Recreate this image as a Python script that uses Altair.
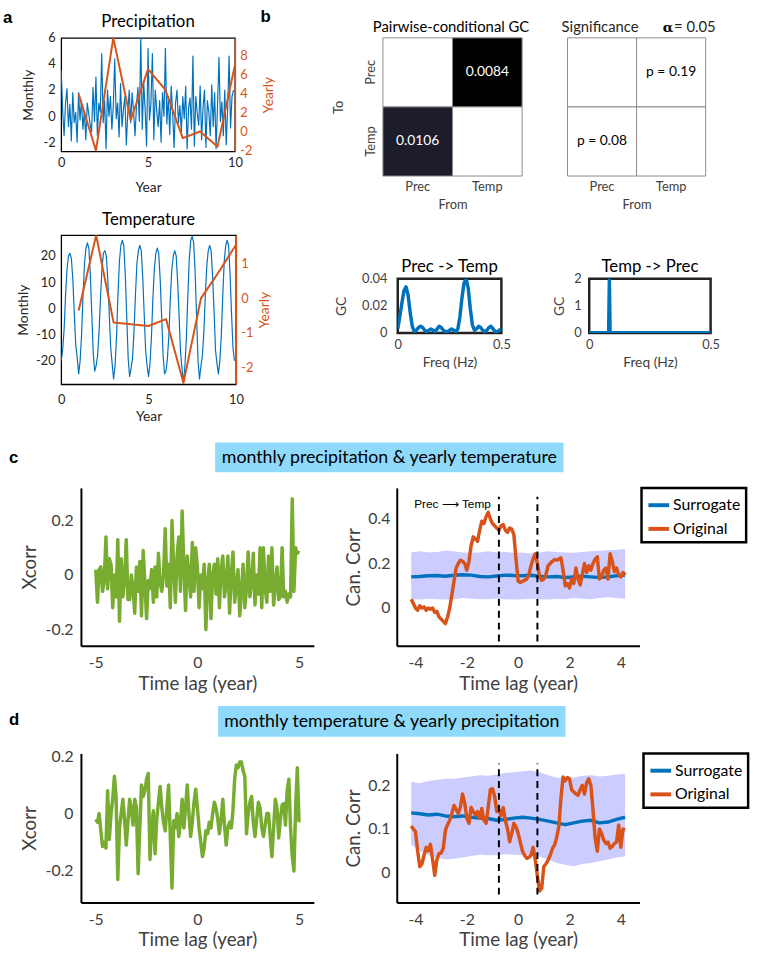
import altair as alt
import pandas as pd

FONT = "Lato"
LETTER_FONT = "Liberation Sans"
BLUE = "#0072BD"
ORANGE = "#D95319"
GREEN = "#77AC30"
BAND = "#CCCCFF"
BANNER = "#8FD9FB"
DARK = "#262626"
GRAY = "#404040"

# ---------------- data ----------------
month_years = [round(i / 12, 4) for i in range(120)]
year_pts = [1, 2, 3, 4, 5, 6, 7, 8, 9, 10]

prec_monthly = [
    3.5, 0.5, -1.5, 1.0, 2.1, -0.8, 0.9, -1.9, 1.8, -0.5, 0.3, -2.0,
    1.8, -0.3, 1.2, -1.0, 0.4, -1.8, 1.0, 0.2, -0.6, -1.2, 2.2, -0.4,
    3.0, -1.5, 1.0, 0.3, 4.8, -0.5, 1.2, -2.5, 2.0, 0.0, 1.5, -1.0,
    0.8, 4.4, -0.2, 1.0, -1.6, 2.5, -0.8, 0.5, 1.5, -2.2, 0.2, 2.0,
    -0.5, 1.8, 0.3, -1.5, 0.8, 2.2, -0.4, 6.0, -1.0, 2.6, 0.5, -2.3,
    5.2, -0.3, 1.0, 4.8, -1.8, 2.0, 0.4, -0.8, 1.2, -2.0, 1.8, 0.0,
    5.2, -0.6, 1.5, -1.4, 2.3, 0.2, -2.4, 1.0, 2.0, -0.5, 0.8, -1.2,
    1.5, -0.2, 2.3, -2.5, 0.6, 1.4, -1.0, 4.6, -2.3, 1.5, 0.2, -0.7,
    2.3, -1.8, 0.7, 2.0, -2.4, 1.2, 0.3, -1.5, 2.4, -0.8, 1.8, -2.5,
    0.8, 4.5, -0.4, 1.1, -1.5, 2.0, -2.2, 0.6, 4.6, -0.9, 1.5, 2.0,
]
prec_yearly = [4.0, -2.0, 9.9, 1.2, 6.6, 4.4, -0.7, 0.0, -1.6, 7.0]

temp_monthly = [
    -20, -16, -8, 5, 15, 20, 21, 19, 11, -2, -14, -19,
    -25, -20, -10, 5, 17, 23, 25, 23, 13, -2, -17, -24,
    -22, -18, -9, 4, 15, 21, 22, 20, 11, -2, -15, -21,
    -27, -22, -11, 5, 18, 24, 26, 24, 13, -3, -19, -26,
    -23, -19, -9, 5, 17, 22, 24, 22, 12, -2, -16, -22,
    -26, -21, -11, 4, 15, 21, 23, 21, 11, -3, -18, -25,
    -24, -19, -10, 4, 15, 20, 22, 20, 10, -3, -17, -23,
    -28.5, -22, -11, 5, 19, 26, 27.5, 25, 14, -3, -20, -27,
    -22, -18, -9, 5, 16, 22, 24, 22, 12, -1, -16, -21,
    -25, -20, -10, 5, 18, 24, 26, 24, 13, -2, -15, -20,
]
temp_yearly = [-0.35, 1.83, -0.7, -0.75, -0.8, -0.6, -2.45, 0.0, 0.75, 1.55]

CATS = ["Prec", "Temp"]
heat_from = ["Prec", "Temp", "Prec", "Temp"]
heat_to = ["Prec", "Prec", "Temp", "Temp"]
heat_fill = ["#FFFFFF", "#000000", "#1C1C2A", "#FFFFFF"]
heat_text = ["", "0.0084", "0.0106", ""]
p_text = ["", "p = 0.19", "p = 0.08", ""]

gc_freq = [round(i / 100, 2) for i in range(51)]
gc_prec_temp = [
    0.003, 0.012, 0.022, 0.031, 0.034, 0.028, 0.015, 0.005, 0.001, 0.002,
    0.004, 0.005, 0.004, 0.002, 0.001, 0.002, 0.003, 0.002, 0.001, 0.003,
    0.005, 0.004, 0.002, 0.001, 0.001, 0.002, 0.003, 0.002, 0.001, 0.003,
    0.012, 0.026, 0.037, 0.040, 0.033, 0.018, 0.006, 0.002, 0.003, 0.005,
    0.004, 0.002, 0.001, 0.002, 0.004, 0.005, 0.003, 0.001, 0.001, 0.002, 0.003,
]
gc2_freq = [0, 0.05, 0.075, 0.08, 0.083, 0.086, 0.09, 0.15, 0.25, 0.35, 0.45, 0.5]
gc_temp_prec = [0.01, 0.01, 0.01, 0.05, 2.0, 0.05, 0.01, 0.01, 0.01, 0.01, 0.01, 0.01]

lags60 = [round((k - 60) / 12, 4) for k in range(121)]
lags50 = [round((k - 50) / 12, 4) for k in range(101)]
lags_sur = [round((k - 50) / 12, 4) for k in range(0, 101, 4)]

c_xcorr = [
    0.02, -0.1, 0.02, 0.03, -0.06, -0.02, 0.14, -0.05, 0.06, 0.04, -0.12, 0.0,
    -0.08, 0.13, -0.17, 0.06, -0.08, -0.02, 0.13, -0.09, -0.09, 0.0, -0.05, -0.14,
    0.03, -0.06, 0.05, -0.15, 0.09, -0.03, -0.16, -0.02, -0.05, 0.02, -0.1, 0.03,
    -0.08, 0.08, -0.03, -0.06, 0.0, 0.17, -0.04, 0.04, -0.12, 0.2, 0.03, -0.1,
    0.07, 0.14, -0.06, 0.235, 0.03, -0.13, 0.07, 0.0, -0.08, 0.12, -0.06, 0.1,
    0.03, -0.12, 0.0, -0.05, 0.04, -0.2, -0.03, 0.04, -0.16, 0.0, 0.04, -0.07,
    0.06, -0.12, 0.02, 0.07, -0.08, -0.03, 0.07, -0.14, 0.0, 0.085, -0.1, -0.04,
    0.02, -0.15, -0.06, 0.04, -0.12, -0.05, 0.085, -0.08, -0.03, 0.08, -0.11, 0.0,
    -0.07, 0.1, -0.12, 0.1, -0.05, -0.1, 0.07, -0.06, 0.1, -0.11, -0.04, 0.03,
    -0.09, -0.08, 0.1, -0.08, -0.06, -0.1, -0.07, -0.08, 0.28, -0.06, 0.1, 0.08,
    0.09,
]
d_xcorr = [
    -0.02, -0.03, 0.0, -0.06, -0.115, -0.1, -0.12, 0.08, -0.09, 0.0, 0.05, 0.13,
    0.06, -0.23, -0.05, 0.0, 0.05, -0.02, -0.11, -0.03, 0.05, 0.015, -0.04, 0.05,
    0.02, -0.21, -0.05, 0.1, 0.06, 0.08, 0.12, 0.14, -0.16, -0.05, 0.01, -0.14,
    -0.02, 0.04, 0.095, 0.02, -0.03, -0.06, 0.02, 0.1, -0.08, -0.26, -0.025, -0.05,
    0.0, -0.08, -0.03, 0.05, -0.05, 0.02, 0.1, 0.0, -0.08, -0.03, 0.04, 0.085,
    0.02, -0.05, -0.1, -0.15, -0.12, -0.06, -0.07, -0.03, -0.05, 0.0, 0.04, 0.02,
    -0.02, -0.07, -0.02, 0.05, -0.04, -0.11, -0.05, -0.03, -0.05, 0.01, 0.12, 0.17,
    0.16, 0.18, 0.18, 0.15, 0.13, -0.07, 0.0, 0.04, 0.06, -0.03, -0.08, -0.02,
    0.04, 0.02, -0.05, -0.08, -0.04, 0.0, 0.0, -0.08, -0.15, -0.05, 0.05, 0.02,
    -0.085, -0.02, 0.03, 0.035, -0.04, 0.08, 0.12, -0.05, -0.15, -0.2, 0.02, 0.16,
    -0.03,
]

c_orig = [
    0.04, 0.02, 0.0, -0.01, 0.01, 0.0, 0.005, -0.01, 0.0, -0.005,
    0.0, -0.02, -0.015, -0.04, -0.05, -0.06, -0.07, -0.04, 0.0, 0.06,
    0.12, 0.18, 0.2, 0.215, 0.21, 0.2, 0.17, 0.21, 0.28, 0.32,
    0.31, 0.3, 0.35, 0.39, 0.38, 0.41, 0.43, 0.4, 0.38, 0.37,
    0.36, 0.35, 0.37, 0.375, 0.35, 0.34, 0.36, 0.355, 0.33, 0.22,
    0.12, 0.115, 0.12, 0.125, 0.13, 0.15, 0.19, 0.22, 0.244, 0.2,
    0.14, 0.125, 0.13, 0.15, 0.19, 0.2, 0.21, 0.218, 0.215, 0.22,
    0.226, 0.17, 0.1, 0.11, 0.09, 0.13, 0.11, 0.18, 0.13, 0.104,
    0.15, 0.2, 0.16, 0.19, 0.17, 0.2, 0.22, 0.23, 0.13, 0.14,
    0.17, 0.18, 0.13, 0.244, 0.21, 0.163, 0.18, 0.15, 0.14, 0.16,
    0.148,
]
d_orig = [
    0.107, 0.1, 0.094, 0.05, 0.014, 0.02, 0.04, 0.058, 0.05, 0.065,
    0.03, -0.006, 0.03, 0.044, 0.045, 0.056, 0.098, 0.11, 0.12, 0.135,
    0.154, 0.145, 0.135, 0.15, 0.18, 0.16, 0.125, 0.113, 0.15, 0.14,
    0.132, 0.14, 0.125, 0.147, 0.12, 0.113, 0.15, 0.19, 0.192, 0.175,
    0.14, 0.145, 0.13, 0.149, 0.12, 0.101, 0.071, 0.09, 0.113, 0.105,
    0.09, 0.07, 0.05, 0.04, 0.033, 0.035, 0.04, 0.058, 0.03, -0.008,
    -0.042, -0.035, 0.014, 0.02, 0.029, 0.04, 0.055, 0.063, 0.08, 0.105,
    0.17, 0.219, 0.21, 0.218, 0.215, 0.19, 0.185, 0.18, 0.177, 0.19,
    0.2, 0.18, 0.205, 0.215, 0.2, 0.143, 0.08, 0.049, 0.1, 0.09,
    0.075, 0.067, 0.07, 0.056, 0.06, 0.067, 0.07, 0.109, 0.058, 0.1,
    0.098,
]
c_sur = [0.14, 0.142, 0.145, 0.146, 0.143, 0.147, 0.15, 0.148, 0.142, 0.14,
         0.144, 0.148, 0.146, 0.145, 0.147, 0.143, 0.14, 0.142, 0.137, 0.14,
         0.143, 0.14, 0.137, 0.14, 0.145, 0.148]
c_hi = [0.25, 0.255, 0.25, 0.252, 0.258, 0.255, 0.25, 0.248, 0.25, 0.255,
        0.25, 0.252, 0.248, 0.25, 0.245, 0.25, 0.255, 0.252, 0.25, 0.248,
        0.252, 0.255, 0.258, 0.26, 0.262, 0.265]
c_lo = [0.04, 0.038, 0.042, 0.04, 0.038, 0.04, 0.045, 0.042, 0.04, 0.04,
        0.042, 0.04, 0.038, 0.04, 0.042, 0.04, 0.038, 0.042, 0.04, 0.045,
        0.042, 0.04, 0.045, 0.048, 0.045, 0.042]
d_sur = [0.137, 0.135, 0.132, 0.134, 0.13, 0.128, 0.13, 0.127, 0.125, 0.124,
         0.12, 0.122, 0.125, 0.127, 0.125, 0.122, 0.118, 0.114, 0.11, 0.114,
         0.118, 0.12, 0.114, 0.116, 0.122, 0.127]
d_hi = [0.208, 0.205, 0.21, 0.212, 0.215, 0.215, 0.218, 0.22, 0.223, 0.222,
        0.225, 0.228, 0.23, 0.232, 0.234, 0.23, 0.223, 0.218, 0.215, 0.218,
        0.222, 0.223, 0.22, 0.222, 0.225, 0.226]
d_lo = [0.064, 0.05, 0.04, 0.035, 0.03, 0.032, 0.035, 0.038, 0.041, 0.04,
        0.04, 0.042, 0.041, 0.04, 0.04, 0.037, 0.03, 0.022, 0.018, 0.015,
        0.02, 0.022, 0.026, 0.03, 0.035, 0.037]

dash_lags = [-0.75, 0.75]
c_dash_lo, c_dash_hi = [-0.15, -0.15], [0.5, 0.5]
d_dash_lo, d_dash_hi = [-0.05, -0.05], [0.25, 0.25]
ann_lag, ann_val, ann_text = [-4.05], [0.468], ["Prec \u27f6 Temp"]
series_names = ["Surrogate", "Original"]

# ---------------- helpers ----------------
ONE = pd.DataFrame({"k": [0]})
NUM = "'' + datum.value"
JOIN = "round"


def frame(L, T, W, H, R, B):
    # invisible rule that fixes the outer box of each panel tile
    return alt.Chart(ONE).mark_rule(strokeWidth=0, opacity=0).encode(
        x=alt.value(-L), x2=alt.value(W + R), y=alt.value(-T), y2=alt.value(H + B))


def spacer():
    # 1px invisible first cell, so that a row's origin sits at its left edge
    return alt.Chart(ONE).mark_rule(strokeWidth=0, opacity=0).encode(
        x=alt.value(0), x2=alt.value(0), y=alt.value(0), y2=alt.value(0)
    ).properties(width=1, height=1)


def label(txt, x, cy, size=17, font=LETTER_FONT, weight="bold", color="black", align="left"):
    # cy = wanted visual centre of the text; drawn with a top baseline for tight bounds
    return alt.Chart(ONE).mark_text(
        text=txt, font=font, fontSize=size, fontWeight=weight, color=color,
        align=align, baseline="top").encode(x=alt.value(x), y=alt.value(cy - 0.45 * size))


def head(txt, x, cy, size):
    return label(txt, x, cy, size=size, font=FONT, weight="normal", color="black", align="center")


def ax(values, title, fs_lab, fs_tit, pad, ext, tpad, color=GRAY, tcolor=GRAY,
       domain=True, **kw):
    return alt.Axis(values=values, title=title, labelFontSize=fs_lab, titleFontSize=fs_tit,
                    labelPadding=pad, minExtent=ext, maxExtent=ext, titlePadding=tpad,
                    ticks=False, grid=False, labelColor=color, titleColor=tcolor,
                    domain=domain, domainColor="black", domainWidth=2, labelExpr=NUM,
                    titleFontWeight="normal", labelFlush=False, labelOverlap=False, **kw)


# ---------------- panel a ----------------
def panel_a(monthly, yearly, ttl, ty, ldom, lvals, rdom, rvals, W, H, fr, lab_pad, xext, xtp,
            lext, ltp, rext, rtp, letters):
    dm = pd.DataFrame({"year": month_years, "v": monthly})
    dy = pd.DataFrame({"year": year_pts, "v": yearly})
    xa = alt.X("year:Q", scale=alt.Scale(domain=[0, 10], nice=False),
               axis=ax([0, 5, 10], "Year", 13, 14, lab_pad, xext, xtp, domain=False,
                       color=DARK, tcolor=DARK))
    blue = alt.Chart(dm).mark_line(color=BLUE, strokeWidth=1.2, strokeJoin=JOIN, clip=True).encode(
        x=xa,
        y=alt.Y("v:Q", scale=alt.Scale(domain=ldom, nice=False),
                axis=ax(lvals, "Monthly", 13, 14, 6, lext, ltp, domain=False,
                        color=DARK, tcolor=DARK)))
    orange = alt.Chart(dy).mark_line(color=ORANGE, strokeWidth=2, strokeJoin=JOIN, clip=True).encode(
        x="year:Q",
        y=alt.Y("v:Q", scale=alt.Scale(domain=rdom, nice=False),
                axis=alt.Axis(orient="right", values=rvals, title="Yearly", labelFontSize=13,
                              titleFontSize=14, labelPadding=5, minExtent=rext, maxExtent=rext,
                              titlePadding=rtp, ticks=False, grid=False, labelColor=ORANGE,
                              titleColor=ORANGE, domainColor=ORANGE, domainWidth=1.5,
                              labelExpr=NUM, titleFontWeight="normal", titleAngle=270,
                              titleBaseline="top", labelOverlap=False)))
    return alt.layer(blue, orange, head(ttl, W / 2, ty, 17), *letters,
                     frame(*fr)).resolve_scale(y="independent").properties(
        width=W, height=H, view=alt.ViewBackground(stroke="black", strokeWidth=1.3))


a_top = panel_a(prec_monthly, prec_yearly, "Precipitation", -16, [-2.7, 6], [-2, 0, 2, 4, 6],
                [-2.1, 9.9], [-2, 0, 2, 4, 6, 8], 176, 115, (60, 31, 176, 115, 46, 54),
                5, 22, 8, 20, 6, 18, 9, [label("a", -59, -20), label("b", 202, -21.5)])
a_bot = panel_a(temp_monthly, temp_yearly, "Temperature", -16, [-29, 27.9], [-20, -10, 0, 10, 20],
                [-2.49, 1.83], [-2, -1, 0, 1], 177, 151, (60, 29, 177, 151, 45, 42),
                9, 20, 6, 24, 7, 18, 4, [])

# ---------------- panel b heatmaps ----------------
df_h = pd.DataFrame({"src": heat_from, "dst": heat_to, "fill": heat_fill,
                     "txt": heat_text, "ptxt": p_text})
bscale = alt.Scale(domain=CATS, paddingInner=0, paddingOuter=0)
xh = alt.X("src:N", scale=bscale,
           axis=alt.Axis(title="From", labelAngle=0, ticks=False, domain=False, labelPadding=5,
                         labelFontSize=13, titleFontSize=13, minExtent=18, maxExtent=18,
                         titlePadding=5, labelColor=GRAY, titleColor=GRAY,
                         titleFontWeight="normal"))
yh = alt.Y("dst:N", scale=bscale,
           axis=alt.Axis(title="To", labelAngle=270, labelAlign="center", labelBaseline="bottom",
                         ticks=False, domain=False, labelPadding=6, labelFontSize=13,
                         titleFontSize=13, minExtent=20, maxExtent=20, titlePadding=18,
                         labelColor=GRAY, titleColor=GRAY, titleFontWeight="normal"))
heat1 = alt.layer(
    alt.Chart(df_h).mark_rect(stroke="#8c8c8c", strokeWidth=1).encode(
        x=xh, y=yh, fill=alt.Fill("fill:N", scale=None)),
    alt.Chart(df_h).mark_text(color="white", fontSize=14, font=FONT).encode(
        x="src:N", y="dst:N", text="txt:N"),
    head("Pairwise-conditional GC", 69, -11, 15),
    frame(102, 30, 141, 140, 24, 70),
).properties(width=141, height=140)

yh2 = alt.Y("dst:N", scale=bscale, axis=None)
heat2 = alt.layer(
    alt.Chart(df_h).mark_rect(stroke="#8c8c8c", strokeWidth=1, fill="white").encode(x=xh, y=yh2),
    alt.Chart(df_h).mark_text(color="black", fontSize=14, font=FONT).encode(
        x="src:N", y="dst:N", text="ptxt:N"),
    label("Significance", 33, -11, size=15, font=FONT, weight="normal", color=DARK, align="center"),
    label("\u03b1", 102, -11, size=14, font="DejaVu Serif", weight="bold", color="black", align="center"),
    label("= 0.05", 108, -11, size=15, font=FONT, weight="normal", color=DARK, align="left"),
    frame(22, 30, 140, 140, 44, 70),
).properties(width=140, height=140)

# ---------------- panel b spectra ----------------
def gc_panel(freq, vals, ttl, ydom, yvals, W, fr, lpad, lext, ltp):
    d = pd.DataFrame({"f": freq, "g": vals})
    line = alt.Chart(d).mark_line(color=BLUE, strokeWidth=3.5, strokeJoin=JOIN, clip=True).encode(
        x=alt.X("f:Q", scale=alt.Scale(domain=[0, 0.5], nice=False),
                axis=ax([0, 0.5], "Freq (Hz)", 13, 14, 6, 19, 4, domain=False)),
        y=alt.Y("g:Q", scale=alt.Scale(domain=ydom, nice=False),
                axis=ax(yvals, "GC", 13, 14, lpad, lext, ltp, domain=False)))
    return alt.layer(line, head(ttl, W / 2, -12, 17), frame(*fr)).properties(
        width=W, height=55, view=alt.ViewBackground(stroke="#222222", strokeWidth=2.5))


gc1 = gc_panel(gc_freq, gc_prec_temp, "Prec -> Temp", [0, 0.04], [0, 0.02, 0.04], 105,
               (115, 32, 105, 55, 47, 94), 11, 38, 12)
gc2 = gc_panel(gc2_freq, gc_temp_prec, "Temp -> Prec", [0, 2], [0, 1, 2], 123,
               (38, 32, 123, 55, 45, 94), 8, 16, 7)

# ---------------- panels c / d ----------------
def xcorr_panel(vals, ydom, yvals, H, fr):
    d = pd.DataFrame({"lag": lags60, "v": vals})
    line = alt.Chart(d).mark_line(color=GREEN, strokeWidth=3.5, strokeJoin=JOIN).encode(
        x=alt.X("lag:Q", scale=alt.Scale(domain=[-5.73, 5.73], nice=False),
                axis=ax([-5, 0, 5], "Time lag (year)", 16, 19, 9, 25, 4)),
        y=alt.Y("v:Q", scale=alt.Scale(domain=ydom, nice=False),
                axis=ax(yvals, "Xcorr", 16, 19, 8, 34, 8)))
    return alt.layer(line, frame(*fr)).properties(width=236, height=H)


def cancorr_panel(orig, sur, lo, hi, dlo, dhi, ydom, yvals, H, fr, loff, ann):
    dband = pd.DataFrame({"lag": lags_sur, "lo": lo, "hi": hi})
    dsur = pd.DataFrame({"lag": lags_sur, "v": sur, "series": "Surrogate"})
    dorig = pd.DataFrame({"lag": lags50, "v": orig, "series": "Original"})
    ddash = pd.DataFrame({"lag": dash_lags, "lo": dlo, "hi": dhi})
    col = alt.Color("series:N", scale=alt.Scale(domain=series_names, range=[BLUE, ORANGE]),
                    legend=alt.Legend(title=None, orient="right", offset=loff, padding=5,
                                      strokeColor="black", fillColor="white",
                                      symbolType="stroke", symbolStrokeWidth=4,
                                      symbolSize=441, labelFontSize=16, labelColor="black",
                                      labelFont=FONT, rowPadding=3, labelOffset=2))
    band = alt.Chart(dband).mark_area(color=BAND, opacity=1).encode(
        x=alt.X("lag:Q", scale=alt.Scale(domain=[-4.73, 4.73], nice=False),
                axis=ax([-4, -2, 0, 2, 4], "Time lag (year)", 16, 19, 9, 25, 4)),
        y=alt.Y("lo:Q", scale=alt.Scale(domain=ydom, nice=False),
                axis=ax(yvals, "Can. Corr", 16, 19, 7, 30, 4)),
        y2="hi:Q")
    sline = alt.Chart(dsur).mark_line(strokeWidth=3.5, strokeJoin=JOIN).encode(
        x="lag:Q", y="v:Q", color=col)
    oline = alt.Chart(dorig).mark_line(strokeWidth=3.5, strokeJoin=JOIN).encode(
        x="lag:Q", y="v:Q", color=col)
    dash = alt.Chart(ddash).mark_rule(color="black", strokeWidth=2, strokeDash=[7, 5]).encode(
        x="lag:Q", y="lo:Q", y2="hi:Q")
    layers = [band, sline, oline, dash]
    if ann:
        dann = pd.DataFrame({"lag": ann_lag, "v": ann_val, "t": ann_text})
        layers.append(alt.Chart(dann).mark_text(align="left", baseline="middle",
                                                font="Liberation Sans", fontSize=12,
                                                color="black").encode(x="lag:Q", y="v:Q", text="t:N"))
    layers.append(frame(*fr))
    return alt.layer(*layers).properties(width=246, height=H)


c_left = xcorr_panel(c_xcorr, [-0.26, 0.32], [-0.2, 0, 0.2], 160, (81, 8, 236, 160, 22, 57))
c_right = cancorr_panel(c_orig, c_sur, c_lo, c_hi, c_dash_lo, c_dash_hi, [-0.17, 0.54],
                        [0, 0.2, 0.4], 160, (62, 8, 246, 160, 109, 57), 2, True)
d_left = xcorr_panel(d_xcorr, [-0.31, 0.21], [-0.2, 0, 0.2], 151, (81, 10, 236, 151, 22, 56))
d_right = cancorr_panel(d_orig, d_sur, d_lo, d_hi, d_dash_lo, d_dash_hi, [-0.068, 0.273],
                        [0, 0.1, 0.2], 151, (62, 10, 246, 151, 109, 56), 4, False)


def banner(txt, letter, h, x0, x1, y0, y1, lx, ly):
    rect = alt.Chart(ONE).mark_rect(color=BANNER).encode(
        x=alt.value(x0), x2=alt.value(x1), y=alt.value(y0), y2=alt.value(y1))
    t = label(txt, (x0 + x1) / 2, (y0 + y1) / 2, size=18, font=FONT, weight="normal",
              color="black", align="center")
    return alt.layer(rect, t, label(letter, lx, ly)).properties(width=757, height=h)


banner_c = banner("monthly precipitation & yearly temperature", "c", 53, 218, 571, 15, 45, 9, 30)
banner_d = banner("monthly temperature & yearly precipitation", "d", 42, 221, 573, 4, 35, 9, 18)

colA = alt.vconcat(a_top, a_bot, spacing=0)
colB = alt.vconcat(alt.hconcat(spacer(), heat1, heat2, spacing=0),
                   alt.hconcat(spacer(), gc1, gc2, spacing=0), spacing=0)
row1 = alt.hconcat(spacer(), colA, colB, spacing=0)
row_c = alt.hconcat(spacer(), c_left, c_right, spacing=0).resolve_scale(color="independent")
row_d = alt.hconcat(spacer(), d_left, d_right, spacing=0).resolve_scale(color="independent")

chart = alt.vconcat(row1, banner_c, row_c, banner_d, row_d, spacing=0).resolve_scale(
    color="independent"
).properties(padding=0, background="white").configure(font=FONT).configure_view(
    stroke=None
).configure_legend(strokeWidth=2.5).configure_axis(labelFont=FONT, titleFont=FONT)

chart.save("out.html", embed_options={"renderer": "svg", "actions": False})
